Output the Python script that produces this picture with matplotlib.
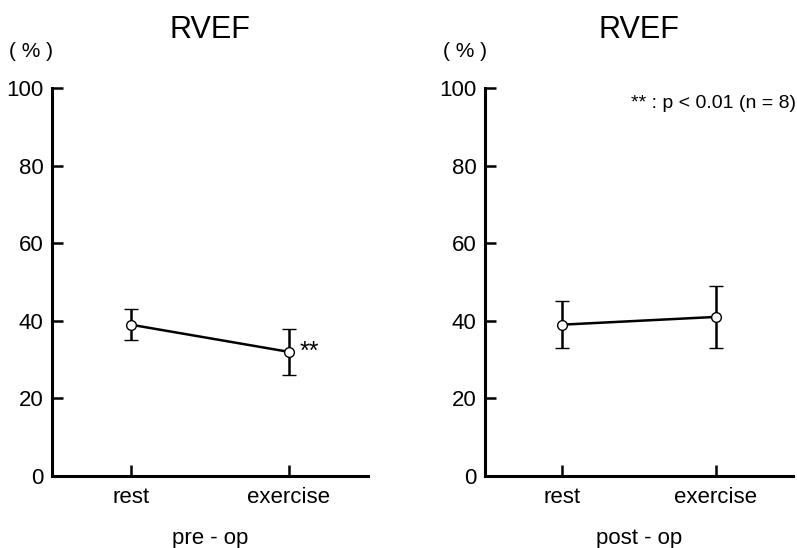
import matplotlib
matplotlib.use("Agg")
import matplotlib.pyplot as plt

plt.rcParams['font.family'] = ['Liberation Sans', 'DejaVu Sans']

# data
conditions = ["rest", "exercise"]
pre_mean = [39, 32]
pre_low = [35, 26]
pre_high = [43, 38]
post_mean = [39, 41]
post_low = [33, 33]
post_high = [45, 49]
yticks = [0, 20, 40, 60, 80, 100]

fig = plt.figure(figsize=(7.97, 5.48), dpi=100)
ax_pre = fig.add_axes([0.0652, 0.1314, 0.396, 0.708])
ax_post = fig.add_axes([0.6085, 0.1314, 0.386, 0.708])


def draw_panel(ax, mean, low, high, xlabel):
    x = list(range(len(conditions)))
    yerr = [[m - l for m, l in zip(mean, low)], [h - m for m, h in zip(mean, high)]]
    ax.errorbar(x, mean, yerr=yerr, color='black', lw=1.8, elinewidth=1.8,
                capsize=5, capthick=1.8, marker='o', ms=7, mfc='white',
                mec='black', mew=1.0, zorder=3)
    ax.set_xlim(-0.5, 1.5)
    ax.set_ylim(0, 100)
    ax.set_xticks(x)
    ax.set_xticklabels(conditions, fontsize=16)
    ax.set_yticks(yticks)
    ax.set_yticklabels([str(t) for t in yticks], fontsize=16)
    ax.tick_params(axis='both', direction='in', length=8, width=1.8)
    ax.tick_params(axis='y', pad=6)
    ax.tick_params(axis='x', pad=8)
    for s in ('top', 'right'):
        ax.spines[s].set_visible(False)
    for s in ('left', 'bottom'):
        ax.spines[s].set_linewidth(2.2)
    ax.set_xlabel(xlabel, fontsize=16, labelpad=14)
    ax.set_title("RVEF", fontsize=22, pad=36)
    ax.text(-0.065, 1.095, "( % )", transform=ax.transAxes, fontsize=15,
            ha='center', va='center')


draw_panel(ax_pre, pre_mean, pre_low, pre_high, "pre - op")
draw_panel(ax_post, post_mean, post_low, post_high, "post - op")

ax_pre.text(1.07, pre_mean[1], "**", fontsize=18, ha='left', va='center')
ax_post.text(1.01, 0.96, "** : p < 0.01 (n = 8)", transform=ax_post.transAxes,
             fontsize=14, ha='right', va='center')

fig.savefig("out.png", dpi=100)
